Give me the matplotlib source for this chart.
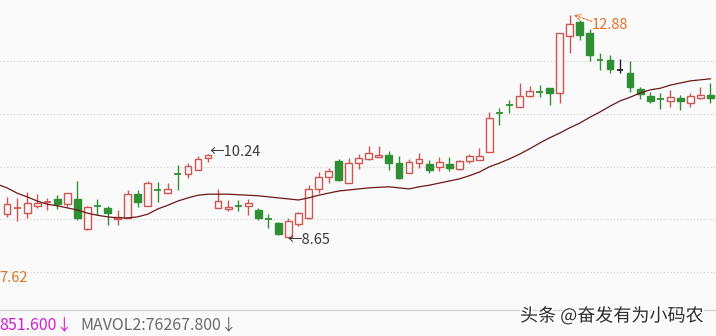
import numpy as np
import matplotlib
matplotlib.use("Agg")
import matplotlib.pyplot as plt
from matplotlib import patheffects as pe

plt.rcParams['font.family'] = ['Noto Sans CJK SC', 'DejaVu Sans']

# ---- data ----
opens = [9.10, 9.20, 9.12, 9.25, 9.32, 9.39, 9.29, 9.39, 8.82, 9.27,
         9.22, 9.00, 9.03, 9.48, 9.25, 9.57, 9.50, 9.87, 9.86, 9.94,
         10.16, 9.22, 9.20, 9.26, 9.25, 9.18, 9.02, 8.93, 8.67, 8.92,
         9.03, 9.58, 9.81, 10.11, 9.69, 10.07, 10.14, 10.18, 10.22, 10.07,
         9.88, 10.07, 10.05, 9.99, 10.05, 9.96, 10.11, 10.13, 10.28, 11.03,
         11.18, 11.13, 11.34, 11.43, 11.50, 11.40, 12.48, 12.75, 12.54, 12.04,
         12.03, 11.84, 11.78, 11.48, 11.34, 11.29, 11.25, 11.31, 11.21, 11.30,
         11.36]
highs = [9.43, 9.41, 9.52, 9.49, 9.41, 9.47, 9.50, 9.73, 9.26, 9.39,
         9.26, 9.18, 9.56, 9.56, 9.73, 9.71, 9.69, 10.03, 10.07, 10.20,
         10.24, 9.58, 9.37, 9.37, 9.39, 9.22, 9.10, 8.95, 9.03, 9.14,
         9.65, 9.90, 9.98, 10.14, 10.16, 10.24, 10.39, 10.39, 10.30, 10.20,
         10.14, 10.26, 10.13, 10.18, 10.18, 10.13, 10.24, 10.35, 11.04, 11.12,
         11.27, 11.59, 11.53, 11.55, 11.50, 12.54, 12.88, 12.79, 12.61, 12.16,
         12.12, 12.05, 12.01, 11.51, 11.42, 11.40, 11.46, 11.36, 11.40, 11.51,
         11.59]
lows = [9.05, 8.97, 9.03, 9.22, 9.18, 9.20, 9.24, 8.99, 8.80, 9.08,
        8.89, 8.89, 9.03, 9.24, 9.25, 9.33, 9.50, 9.56, 9.79, 9.94,
        10.09, 9.22, 9.16, 9.16, 9.08, 8.99, 8.83, 8.70, 8.65, 8.88,
        9.01, 9.50, 9.69, 9.73, 9.69, 9.96, 10.12, 10.18, 9.94, 9.77,
        9.88, 9.98, 9.88, 9.92, 9.92, 9.94, 10.07, 10.13, 10.28, 10.79,
        11.02, 11.13, 11.32, 11.32, 11.17, 11.21, 12.16, 12.41, 12.01, 11.84,
        11.78, 11.78, 11.42, 11.29, 11.21, 11.10, 11.14, 11.08, 11.14, 11.29,
        11.21]
closes = [9.30, 9.22, 9.31, 9.31, 9.33, 9.29, 9.50, 9.03, 9.24, 9.25,
          9.12, 9.04, 9.48, 9.33, 9.69, 9.55, 9.58, 9.85, 10.01, 10.15,
          10.22, 9.35, 9.24, 9.25, 9.31, 9.03, 9.00, 8.72, 8.97, 9.12,
          9.58, 9.81, 9.92, 9.75, 10.07, 10.17, 10.26, 10.22, 10.07, 9.79,
          10.09, 10.15, 9.94, 10.09, 9.98, 10.11, 10.20, 10.20, 10.93, 11.02,
          11.17, 11.34, 11.44, 11.41, 11.40, 12.54, 12.71, 12.50, 12.12, 12.02,
          11.86, 11.84, 11.51, 11.38, 11.25, 11.28, 11.32, 11.25, 11.34, 11.36,
          11.30]
# moving average, starting one bar before the first visible candle
ma = [9.67, 9.60, 9.50, 9.43, 9.35, 9.29, 9.26, 9.22, 9.18, 9.12,
      9.08, 9.05, 9.03, 9.03, 9.05, 9.10, 9.20, 9.27, 9.35, 9.41,
      9.46, 9.48, 9.48, 9.48, 9.47, 9.46, 9.45, 9.43, 9.41, 9.39,
      9.37, 9.41, 9.46, 9.50, 9.54, 9.56, 9.58, 9.60, 9.61, 9.62,
      9.60, 9.58, 9.62, 9.65, 9.69, 9.73, 9.77, 9.83, 9.90, 10.00,
      10.07, 10.15, 10.24, 10.34, 10.45, 10.55, 10.64, 10.74, 10.83, 10.94,
      11.04, 11.15, 11.25, 11.32, 11.40, 11.46, 11.49, 11.55, 11.59, 11.63,
      11.65, 11.67]
grid_prices = [8, 9, 10, 11, 12]
high_label = "12.88"
low_label = "←8.65"
mid_label = "←10.24"
axis_low_label = "7.62"
vol_text1 = "851.600↓"
vol_text2 = "MAVOL2:76267.800↓"
watermark = "头条 @奋发有为小码农"

# ---- styling ----
W, H = 716, 336
BG = '#fafafa'
RED = '#cc5752'
RED_FILL = '#fdf6f6'
GREEN = '#2f8f34'
MA_COLOR = '#6e1616'

fig = plt.figure(figsize=(W / 100, H / 100), dpi=100, facecolor=BG)
ax = fig.add_axes([0, 0, 1, 1])
ax.set_facecolor(BG)
ax.axis('off')

n = len(opens)
x = np.arange(n)
o = np.array(opens); c = np.array(closes)
h = np.array(highs); l = np.array(lows)

ax.set_xlim(-0.70, 70.55)
ax.set_ylim(6.789, 13.165)

for g in grid_prices:
    ax.axhline(g, color='#cfcfcf', lw=0.8, ls=(0, (1, 2)), zorder=0)

body_w = 0.68
for i in range(n):
    if c[i] > o[i]:
        col, fill = RED, RED_FILL
    elif c[i] < o[i]:
        col, fill = GREEN, GREEN
    else:
        col, fill = '#222222', '#222222'
    ax.vlines(x[i], l[i], h[i], color=col, lw=1.0, zorder=2)
    bot = min(o[i], c[i])
    ht = abs(c[i] - o[i])
    if ht < 0.025:
        ax.hlines((o[i] + c[i]) / 2, x[i] - body_w / 2, x[i] + body_w / 2,
                  color=col, lw=1.3, zorder=3)
    else:
        ax.bar(x[i], ht, bottom=bot, width=body_w, facecolor=fill,
               edgecolor=col, linewidth=1.0, zorder=3)

ax.plot(np.arange(-1, n), ma, color=MA_COLOR, lw=0.9, zorder=4)

fs = 10.5
# annotations
ax.text(20.1, 10.29, mid_label, color='#3a3a3a', fontsize=fs, va='center', ha='left')
ax.text(27.9, 8.61, low_label, color='#3a3a3a', fontsize=fs, va='center', ha='left')
ax.text(58.2, 12.69, high_label, color='#e07326', fontsize=fs, va='center', ha='left')
ax.annotate('', xy=(56.4, 12.88), xytext=(58.2, 12.76),
            arrowprops=dict(arrowstyle='->', color='#e07326', lw=0.8,
                            linestyle=(0, (2, 1.5)), shrinkA=0, shrinkB=0))

def fx(px):
    return px / W

def fy(py):
    return 1 - py / H

fig.text(fx(-1), fy(278), axis_low_label, color='#e07326', fontsize=fs,
         va='center', ha='left')

# separator of the volume pane
ax.axhline(12.88 - (310 - 15) / 52.7, color='#d0d0d0', lw=0.9, zorder=1)

fig.text(fx(-1), fy(325), vol_text1, color='#d21ed2', fontsize=11.5,
         va='center', ha='left')
fig.text(fx(80), fy(325), vol_text2, color='#6a6a6a', fontsize=11.5,
         va='center', ha='left')

fig.text(fx(520), fy(316), watermark, color='#2e2e2e', fontsize=13,
         va='center', ha='left',
         path_effects=[pe.withStroke(linewidth=2.5, foreground='white')])

fig.savefig('out.png', dpi=100, facecolor=BG)
